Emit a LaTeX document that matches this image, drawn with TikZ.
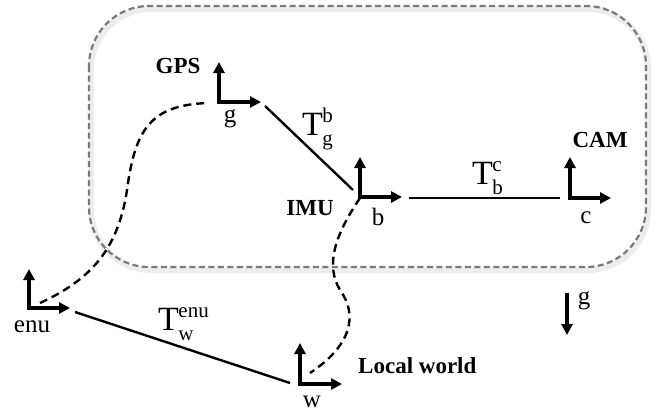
\documentclass[tikz,border=0pt]{standalone}
\usepackage{fontspec}
\setmainfont{Liberation Serif}
\usetikzlibrary{arrows.meta}
\newcommand{\TT}[2]{{\fontsize{34}{34}\selectfont T}\kern-0.5pt{\fontsize{21}{21}\selectfont\ooalign{\raisebox{13pt}{#1}\cr\raisebox{-10pt}{#2}\cr}}}
\begin{document}
\begin{tikzpicture}[x=1pt,y=-1pt,
  axes/.style={line width=3.2pt, {Triangle[length=11pt,width=11pt]}-{Triangle[length=11pt,width=11pt]}, line join=miter},
  lbl/.style={font=\fontsize{25}{25}\selectfont, inner sep=0pt, anchor=base},
  blbl/.style={font=\fontsize{23}{23}\selectfont\bfseries, inner sep=0pt, anchor=base},
  tlbl/.style={inner sep=0pt, anchor=base west},
  link/.style={line width=2.4pt},
  chain/.style={line width=2.4pt, dash pattern=on 8pt off 5pt},
  grav/.style={line width=3.2pt, -{Triangle[length=11pt,width=11pt]}},
  boxglow/.style={draw=black!7, line width=6pt, rounded corners=60pt},
  boxst/.style={draw=black!52, line width=2.2pt, dash pattern=on 6pt off 3.5pt, rounded corners=60pt}]
\useasboundingbox (0,0) rectangle (661,415);

% dashed rounded box
\draw[boxglow] (91,9) rectangle (648,270);
\draw[boxst] (89,6) rectangle (646,267);

% frame origins
\coordinate (gps) at (219,102);
\coordinate (imu) at (360,197);
\coordinate (cam) at (570,198);
\coordinate (enu) at (29,308);
\coordinate (w) at (300,384);

% frame axes
\draw[axes] ([yshift=40pt]gps) -- (gps) -- ([xshift=42pt]gps);
\draw[axes] ([yshift=40pt]imu) -- (imu) -- ([xshift=42pt]imu);
\draw[axes] ([yshift=41pt]cam) -- (cam) -- ([xshift=41pt]cam);
\draw[axes] ([yshift=39pt]enu) -- (enu) -- ([xshift=41pt]enu);
\draw[axes] ([yshift=41pt]w) -- (w) -- ([xshift=42pt]w);

% connector end points
\coordinate (gpsA) at (265,106);
\coordinate (imuA) at (353,190);
\coordinate (imuB) at (409,198);
\coordinate (camA) at (560,198);
\coordinate (enuA) at (75,312);
\coordinate (wA) at (290,383);
\coordinate (enuC) at (40,303);
\coordinate (gpsC) at (208,103);
\coordinate (imuC) at (360,198);
\coordinate (wC) at (310,373);

% solid transforms
\draw[link] (gpsA) -- (imuA);
\draw[link] (imuB) -- (camA);
\draw[link] (enuA) -- (wA);

% dashed chains
\draw[chain] (enuC) .. controls (90,280) and (118,250) .. (127,190)
  .. controls (135,130) and (150,105) .. (gpsC);
\draw[chain] (imuC) .. controls (335,235) and (325,265) .. (340,290)
  .. controls (358,315) and (352,345) .. (wC);

% gravity
\coordinate (gtop) at (567,293);
\coordinate (gbot) at (567,335);
\draw[grav] (gtop) -- (gbot);

% labels
\node[blbl] (lgps) at (178,73) {GPS};
\node[blbl] (limu) at (310,215) {IMU};
\node[blbl] (lcam) at (600,147) {CAM};
\node[blbl, anchor=base west] (lworld) at (358,373) {Local world};
\node[lbl] (lg) at (230,122) {g};
\node[lbl] (lb) at (378,225) {b};
\node[lbl] (lc) at (586,223) {c};
\node[lbl] (lenu) at (32,332) {enu};
\node[lbl] (lw) at (312,407) {w};
\node[lbl] (lgrav) at (584,304) {g};

\node[tlbl] (tgb) at (302,135) {\TT{b}{g}};
\node[tlbl] (tbc) at (472,184) {\TT{c}{b}};
\node[tlbl] (twe) at (158,330) {\TT{enu}{w}};
\end{tikzpicture}
\end{document}
